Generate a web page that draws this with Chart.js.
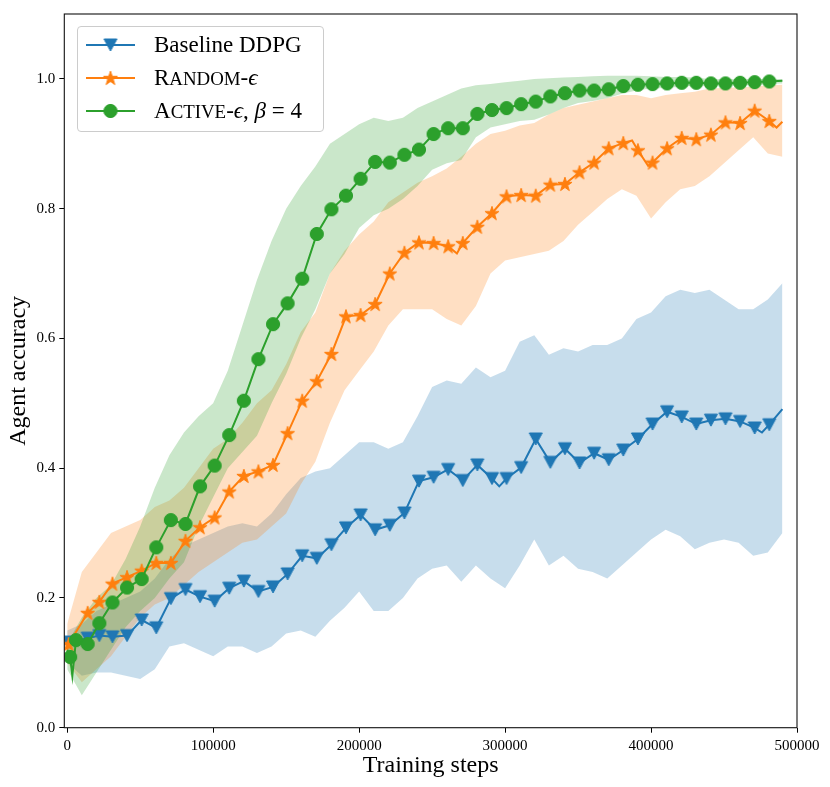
<!DOCTYPE html>
<html>
<head>
<meta charset="utf-8">
<script src="https://cdn.jsdelivr.net/npm/chart.js@4.4.1/dist/chart.umd.min.js"></script>
<style>
  body { margin: 0; background: #fff; }
  #wrap { position: relative; width: 830px; height: 787px; }
  #legend {
    position: absolute; left: 77px; top: 26px; width: 245px; height: 104px;
    border: 1px solid #cccccc; border-radius: 4px; background: rgba(255,255,255,0.8);
    font-family: 'Liberation Serif', serif; font-size: 23px; color: #000;
  }
  .row { position: absolute; left: 0; height: 30px; display: flex; align-items: center; white-space: nowrap; }
  .row canvas { margin-left: 6px; margin-right: 18px; }
  .sc { font-size: 0.82em; text-transform: uppercase; }
</style>
</head>
<body>
<div id="wrap">
  <canvas id="accChart" width="830" height="787"></canvas>
  <div id="legend"></div>
</div>
<script>
Chart.defaults.font.family = "'Liberation Serif', serif";
Chart.defaults.color = '#000';

// ── Data ────────────────────────────────────────────────────
const xTicks = [0, 100000, 200000, 300000, 400000, 500000];
const yTicks = [0, 0.2, 0.4, 0.6, 0.8, 1.0];

const bandSteps = [0,10000,20000,30000,40000,50000,60000,70000,80000,90000,
  100000,110000,120000,130000,140000,150000,160000,170000,180000,190000,
  200000,210000,220000,230000,240000,250000,260000,270000,280000,290000,
  300000,310000,320000,330000,340000,350000,360000,370000,380000,390000,
  400000,410000,420000,430000,440000,450000,460000,470000,480000,490000];

const blueUpper = [0.15,0.16,0.18,0.19,0.20,0.21,0.23,0.26,0.28,0.29,
  0.30,0.31,0.315,0.31,0.33,0.36,0.385,0.395,0.40,0.42,
  0.44,0.44,0.43,0.44,0.48,0.525,0.535,0.53,0.555,0.54,
  0.55,0.595,0.605,0.575,0.585,0.58,0.59,0.59,0.60,0.63,
  0.64,0.665,0.675,0.67,0.675,0.66,0.645,0.645,0.66,0.685];
const blueLower = [0.10,0.08,0.085,0.085,0.08,0.075,0.09,0.125,0.13,0.12,
  0.11,0.125,0.125,0.115,0.125,0.145,0.15,0.14,0.165,0.185,
  0.21,0.18,0.18,0.20,0.23,0.245,0.25,0.225,0.25,0.23,
  0.215,0.25,0.29,0.25,0.265,0.245,0.24,0.23,0.25,0.27,
  0.29,0.305,0.295,0.275,0.285,0.29,0.285,0.265,0.27,0.30];

const orangeUpper = [0.16,0.24,0.27,0.30,0.31,0.32,0.34,0.35,0.37,0.40,
  0.43,0.445,0.47,0.50,0.52,0.56,0.61,0.64,0.70,0.735,
  0.76,0.78,0.81,0.825,0.84,0.85,0.862,0.88,0.90,0.915,
  0.92,0.928,0.932,0.945,0.955,0.96,0.965,0.97,0.975,0.975,
  0.97,0.975,0.978,0.98,0.985,0.986,0.987,0.988,0.99,0.991];
const orangeLower = [0.10,0.07,0.09,0.11,0.14,0.17,0.19,0.20,0.22,0.24,
  0.255,0.27,0.285,0.29,0.31,0.33,0.375,0.41,0.47,0.52,
  0.55,0.58,0.62,0.645,0.645,0.645,0.63,0.62,0.65,0.70,
  0.72,0.725,0.73,0.735,0.75,0.775,0.795,0.815,0.83,0.82,
  0.785,0.81,0.83,0.835,0.85,0.87,0.89,0.91,0.885,0.88];

const greenUpper = [0.13,0.17,0.20,0.22,0.26,0.31,0.37,0.42,0.455,0.48,
  0.50,0.55,0.62,0.69,0.75,0.80,0.835,0.865,0.90,0.915,
  0.93,0.94,0.935,0.94,0.955,0.965,0.975,0.985,0.99,0.992,
  0.995,0.997,1.0,1.001,1.002,1.003,1.004,1.005,1.005,1.005,
  1.004,1.003,1.003,1.002,1.0,1.0,1.0,1.0,1.0,1.0];
const greenLower = [0.09,0.05,0.085,0.12,0.155,0.18,0.20,0.23,0.255,0.31,
  0.355,0.40,0.425,0.45,0.50,0.545,0.60,0.645,0.70,0.73,
  0.77,0.79,0.80,0.815,0.835,0.86,0.87,0.875,0.91,0.925,
  0.93,0.935,0.937,0.945,0.955,0.963,0.966,0.97,0.977,0.982,
  0.985,0.986,0.988,0.989,0.99,0.99,0.99,0.991,0.992,0.993];

// mean curves: points carrying a marker ...
const blueMarkSteps = [1000,14000,22000,31000,41000,51000,61000,71000,81000,91000,
  101000,111000,121000,131000,141000,151000,161000,171000,181000,191000,
  201000,211000,221000,231000,241000,251000,261000,271000,281000,291000,
  301000,311000,321000,331000,341000,351000,361000,371000,381000,391000,
  401000,411000,421000,431000,441000,451000,461000,471000,481000];
const blueMarkVals = [0.132,0.138,0.142,0.140,0.142,0.166,0.154,0.199,0.213,0.202,
  0.195,0.215,0.226,0.210,0.217,0.237,0.265,0.261,0.282,0.308,
  0.328,0.305,0.312,0.331,0.380,0.386,0.398,0.381,0.405,0.384,
  0.384,0.401,0.445,0.409,0.430,0.408,0.423,0.413,0.428,0.445,
  0.468,0.487,0.479,0.468,0.474,0.476,0.472,0.462,0.467];

const orangeMarkSteps = blueMarkSteps;
const orangeMarkVals = [0.129,0.177,0.194,0.222,0.232,0.242,0.254,0.254,0.288,0.309,
  0.324,0.364,0.388,0.395,0.405,0.454,0.504,0.534,0.576,0.634,
  0.636,0.653,0.700,0.732,0.748,0.747,0.742,0.747,0.772,0.793,
  0.819,0.821,0.820,0.837,0.838,0.856,0.871,0.893,0.901,0.890,
  0.871,0.893,0.909,0.907,0.914,0.933,0.932,0.951,0.935];

const greenMarkSteps = [2000,6000,14000,22000,31000,41000,51000,61000,71000,81000,91000,
  101000,111000,121000,131000,141000,151000,161000,171000,181000,191000,
  201000,211000,221000,231000,241000,251000,261000,271000,281000,291000,
  301000,311000,321000,331000,341000,351000,361000,371000,381000,391000,
  401000,411000,421000,431000,441000,451000,461000,471000,481000];
const greenMarkVals = [0.109,0.135,0.129,0.161,0.193,0.216,0.229,0.278,0.320,0.314,0.372,
  0.404,0.451,0.504,0.568,0.622,0.654,0.692,0.761,0.799,0.820,
  0.846,0.872,0.871,0.883,0.891,0.915,0.924,0.924,0.946,0.952,
  0.955,0.961,0.965,0.973,0.978,0.982,0.982,0.984,0.989,0.991,
  0.992,0.993,0.994,0.994,0.993,0.993,0.994,0.995,0.996];

// ... and extra line points without a marker
const blueLineSteps = [0, 296000, 476000, 490000];
const blueLineVals = [0.128, 0.372, 0.455, 0.491];
const orangeLineSteps = [0, 267000, 387000, 398000, 486000, 490000];
const orangeLineVals = [0.12, 0.731, 0.905, 0.866, 0.925, 0.934];
const greenLineSteps = [0, 3500, 490000];
const greenLineVals = [0.12, 0.08, 0.997];

const BLUE = '#1f77b4', ORANGE = '#ff7f0e', GREEN = '#2ca02c';

// ── Helpers ─────────────────────────────────────────────────
function markerCanvas(kind, color) {
  const c = document.createElement('canvas');
  c.width = 18; c.height = 18;
  const g = c.getContext('2d');
  g.fillStyle = color; g.strokeStyle = color; g.lineWidth = 1;
  g.beginPath();
  if (kind === 'tri') {
    g.moveTo(2.5, 3); g.lineTo(15.5, 3); g.lineTo(9, 15);
  } else if (kind === 'star') {
    for (let k = 0; k < 10; k++) {
      const r = k % 2 ? 2.85 : 7.4;
      const a = -Math.PI / 2 + k * Math.PI / 5;
      g.lineTo(9 + r * Math.cos(a), 9.6 + r * Math.sin(a));
    }
  } else {
    g.arc(9, 9, 6.6, 0, Math.PI * 2);
  }
  g.closePath(); g.fill(); g.stroke();
  return c;
}

function band(vals) {
  return bandSteps.map((s, i) => ({ x: s, y: vals[i] }));
}

function meanLine(mSteps, mVals, lSteps, lVals) {
  const pts = mSteps.map((s, i) => ({ x: s, y: mVals[i], m: true }))
    .concat(lSteps.map((s, i) => ({ x: s, y: lVals[i], m: false })));
  return pts.sort((a, b) => a.x - b.x);
}

const markers = {
  blue: markerCanvas('tri', BLUE),
  orange: markerCanvas('star', ORANGE),
  green: markerCanvas('dot', GREEN),
};

function bandSet(vals, color, fill, order) {
  return { data: band(vals), fill: fill, backgroundColor: color, borderColor: 'transparent',
    borderWidth: 0, pointRadius: 0, order: order };
}

function lineSet(data, color, marker, order) {
  return { data: data, fill: false, borderColor: color, borderWidth: 2, order: order,
    pointStyle: marker, pointRadius: ctx => (ctx.raw && ctx.raw.m ? 7 : 0), pointHoverRadius: 0 };
}

// ── Plugins ─────────────────────────────────────────────────
const frame = {
  id: 'frame',
  afterDatasetsDraw(chart) {
    const { ctx, chartArea: a } = chart;
    ctx.save();
    ctx.strokeStyle = '#111';
    ctx.lineWidth = 1.1;
    ctx.strokeRect(a.left, a.top, a.right - a.left, a.bottom - a.top);
    ctx.restore();
  }
};

// ── Chart ───────────────────────────────────────────────────
new Chart(document.getElementById('accChart'), {
  type: 'line',
  data: {
    datasets: [
      bandSet(blueUpper, 'rgba(31,119,180,0.25)', '+1', 6),
      bandSet(blueLower, 'transparent', false, 6),
      bandSet(orangeUpper, 'rgba(255,127,14,0.25)', '+1', 5),
      bandSet(orangeLower, 'transparent', false, 5),
      bandSet(greenUpper, 'rgba(44,160,44,0.25)', '+1', 4),
      bandSet(greenLower, 'transparent', false, 4),
      lineSet(meanLine(blueMarkSteps, blueMarkVals, blueLineSteps, blueLineVals), BLUE, markers.blue, 3),
      lineSet(meanLine(orangeMarkSteps, orangeMarkVals, orangeLineSteps, orangeLineVals), ORANGE, markers.orange, 2),
      lineSet(meanLine(greenMarkSteps, greenMarkVals, greenLineSteps, greenLineVals), GREEN, markers.green, 1),
    ]
  },
  options: {
    responsive: false, animation: false, events: [],
    layout: { padding: { top: 14, right: 33, left: 0, bottom: 0 } },
    plugins: { legend: { display: false }, tooltip: { enabled: false } },
    scales: {
      x: {
        type: 'linear', min: -2000, max: 500000,
        afterBuildTicks: axis => { axis.ticks = xTicks.map(v => ({ value: v })); },
        afterFit: axis => { axis.height = 59.3; },
        grid: { drawOnChartArea: false, drawTicks: true, tickLength: 5, tickColor: '#000', lineWidth: 1 },
        border: { display: false },
        ticks: { font: { size: 15 }, padding: 4, maxRotation: 0, callback: v => String(v) },
        title: { display: true, text: 'Training steps', font: { size: 24 }, padding: { top: 0, bottom: 7 } }
      },
      y: {
        min: 0, max: 1.1,
        afterBuildTicks: axis => { axis.ticks = yTicks.map(v => ({ value: v })); },
        afterFit: axis => { axis.width = 64.3; },
        grid: { drawOnChartArea: false, drawTicks: true, tickLength: 5, tickColor: '#000', lineWidth: 1 },
        border: { display: false },
        ticks: { font: { size: 15 }, padding: 4, callback: v => v.toFixed(1) },
        title: { display: true, text: 'Agent accuracy', font: { size: 24 }, padding: { top: 4, bottom: 0 } }
      }
    }
  },
  plugins: [frame]
});

// ── Legend ──────────────────────────────────────────────────
const legendItems = [
  { html: 'Baseline DDPG', color: BLUE, marker: markers.blue, top: 3 },
  { html: 'R<span class="sc">andom</span>-<i>ϵ</i>', color: ORANGE, marker: markers.orange, top: 36 },
  { html: 'A<span class="sc">ctive</span>-<i>ϵ</i>, <i>β</i> = 4', color: GREEN, marker: markers.green, top: 69 },
];

const legendEl = document.getElementById('legend');
legendItems.forEach(item => {
  const row = document.createElement('div');
  row.className = 'row';
  row.style.top = item.top + 'px';
  const c = document.createElement('canvas');
  c.width = 52; c.height = 30;
  const g = c.getContext('2d');
  g.strokeStyle = item.color; g.lineWidth = 2;
  g.beginPath(); g.moveTo(2, 15); g.lineTo(51, 15); g.stroke();
  g.drawImage(item.marker, 26.5 - 9, 15 - 9);
  row.appendChild(c);
  const label = document.createElement('span');
  label.innerHTML = item.html;
  row.appendChild(label);
  legendEl.appendChild(row);
});
</script>
</body>
</html>
